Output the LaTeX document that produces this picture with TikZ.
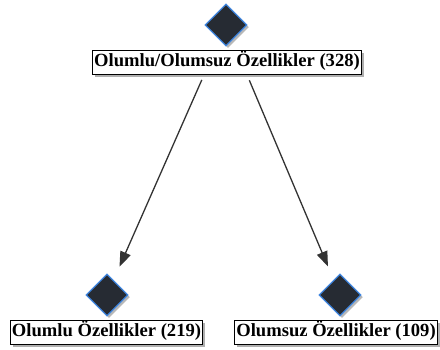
\documentclass[tikz,border=0pt]{standalone}
\usepackage{fontspec}
\setmainfont{Liberation Serif}
\usetikzlibrary{shapes.geometric,shadows,arrows.meta}
\definecolor{dfill}{HTML}{262B33}
\definecolor{dborder}{HTML}{3F86E0}
\definecolor{lcol}{HTML}{333333}
\tikzset{
  dia/.style={diamond, draw=dborder, line width=1.2pt, fill=dfill,
    minimum width=42pt, minimum height=42pt, inner sep=0pt,
    drop shadow={shadow xshift=2pt, shadow yshift=-2pt, fill=gray!70, opacity=0.8}},
  lab/.style={draw=black, line width=0.8pt, fill=white, inner xsep=1.5pt, inner ysep=3pt,
    text height=13.5pt, text depth=4.5pt,
    font=\fontsize{18.6}{20}\selectfont\bfseries,
    drop shadow={shadow xshift=2.5pt, shadow yshift=-2.5pt, fill=gray!70, opacity=0.9}},
  arr/.style={draw=lcol, line width=1.3pt, -{Triangle[length=15pt,width=11pt]}}
}
\begin{document}
\begin{tikzpicture}[x=1pt,y=1pt]
\useasboundingbox (0,0) rectangle (440,-349);
\node[dia] (d0) at (226,-25) {};
\node[lab] (l0) at (227,-62) {Olumlu/Olumsuz Özellikler (328)};
\node[dia] (d1) at (107,-295) {};
\node[lab] (l1) at (106.5,-332) {Olumlu Özellikler (219)};
\node[dia] (d2) at (340,-295) {};
\node[lab] (l2) at (336,-332) {Olumsuz Özellikler (109)};
\draw[arr, shorten <=60pt, shorten >=31pt] (d0.center) -- (d1.center);
\draw[arr, shorten <=60pt, shorten >=31pt] (d0.center) -- (d2.center);
\end{tikzpicture}
\end{document}
